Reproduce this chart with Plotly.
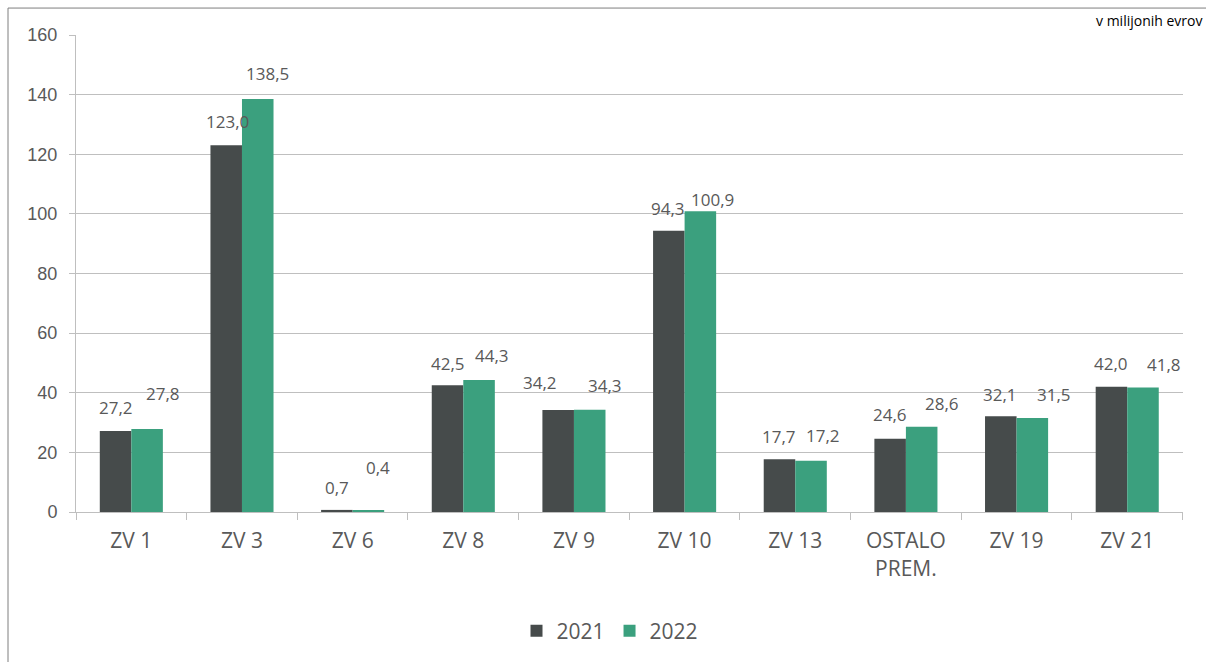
import plotly.graph_objects as go

categories = ["ZV 1", "ZV 3", "ZV 6", "ZV 8", "ZV 9", "ZV 10", "ZV 13", "OSTALO<br>PREM.", "ZV 19", "ZV 21"]
values_2021 = [27.2, 123.0, 0.7, 42.5, 34.2, 94.3, 17.7, 24.6, 32.1, 42.0]
values_2022 = [27.8, 138.5, 0.4, 44.3, 34.3, 100.9, 17.2, 28.6, 31.5, 41.8]
y_ticks = [0, 20, 40, 60, 80, 100, 120, 140, 160]

# data-label nudges (pixels) relative to each bar's top centre, as placed in the original
label_dx_2021 = [0, 1, 0, 0, -18, -1, 0, 0, -1, 0]
label_dy_2021 = [23, 24, 22, 22, 28, 22, 23, 24, 22, 23]
label_dx_2022 = [16, 10, 10, 13, 15, 12, 12, 20, 22, 21]
label_dy_2022 = [36, 26, 43, 24, 24, 12, 25, 23, 24, 23]

FONT = "Open Sans, Liberation Sans, sans-serif"
TXT = "#595959"
C21 = "#464B4B"
C22 = "#3BA07E"

W, H = 1206, 662
L, R, T, B = 76, 23, 35, 149
pw, ph = W - L - R, H - T - B
BARGAP = 0.43
half_bar = pw / len(categories) * (1 - BARGAP) / 4


def px(x):
    return (x - L) / pw


def py(y):
    return (H - B - y) / ph


fig = go.Figure()
fig.add_trace(go.Bar(name="2021", x=categories, y=values_2021, marker_color=C21,
                     marker_line_width=0))
fig.add_trace(go.Bar(name="2022", x=categories, y=values_2022, marker_color=C22,
                     marker_line_width=0))

annotations = []
for series, vals, dxs, dys, base in [
    ("2021", values_2021, label_dx_2021, label_dy_2021, -half_bar),
    ("2022", values_2022, label_dx_2022, label_dy_2022, half_bar),
]:
    for c, v, dx, dy in zip(categories, vals, dxs, dys):
        annotations.append(dict(
            x=c, y=v, xref="x", yref="y", text=f"{v:.1f}".replace(".", ","),
            showarrow=False, xanchor="center", yanchor="middle",
            xshift=base + dx, yshift=dy,
            font=dict(size=17, color=TXT, family=FONT)))

annotations.append(dict(text="v milijonih evrov", xref="paper", yref="paper",
                        x=px(1203), y=py(10), xanchor="right", yanchor="top",
                        showarrow=False, borderpad=0,
                        font=dict(size=14, color="#000000", family=FONT)))

fig.update_layout(
    width=W, height=H,
    margin=dict(l=L, r=R, t=T, b=B),
    paper_bgcolor="white", plot_bgcolor="white",
    separators=",.",
    barmode="group", bargap=BARGAP, bargroupgap=0,
    font=dict(family=FONT, color=TXT),
    showlegend=True,
    legend=dict(orientation="h", x=px(610), xanchor="center", y=py(631), yanchor="middle",
                font=dict(size=21, color=TXT, family=FONT), itemwidth=30),
    xaxis=dict(showline=True, linecolor="#BFBFBF", linewidth=1, ticks="outside",
               tickson="boundaries", ticklen=7, tickcolor="#BFBFBF",
               ticklabelstandoff=10,
               tickfont=dict(size=21, color=TXT, family=FONT)),
    yaxis=dict(range=[0, 160], tickvals=y_ticks, showgrid=True, gridcolor="#BFBFBF",
               gridwidth=1, showline=True, linecolor="#BFBFBF", ticks="outside",
               ticklen=6, tickcolor="#BFBFBF", zeroline=False, ticklabelstandoff=8,
               tickfont=dict(size=18, color=TXT, family="Liberation Sans, Arial, sans-serif")),
    annotations=annotations,
    shapes=[dict(type="rect", xref="paper", yref="paper",
                 x0=px(8), x1=px(1240), y0=py(720), y1=py(8),
                 line=dict(color="#7F7F7F", width=1), layer="below")],
)

fig.write_html("out.html", config={"displayModeBar": False},
               post_script="document.body.style.margin='0';document.body.style.overflow='hidden';")
